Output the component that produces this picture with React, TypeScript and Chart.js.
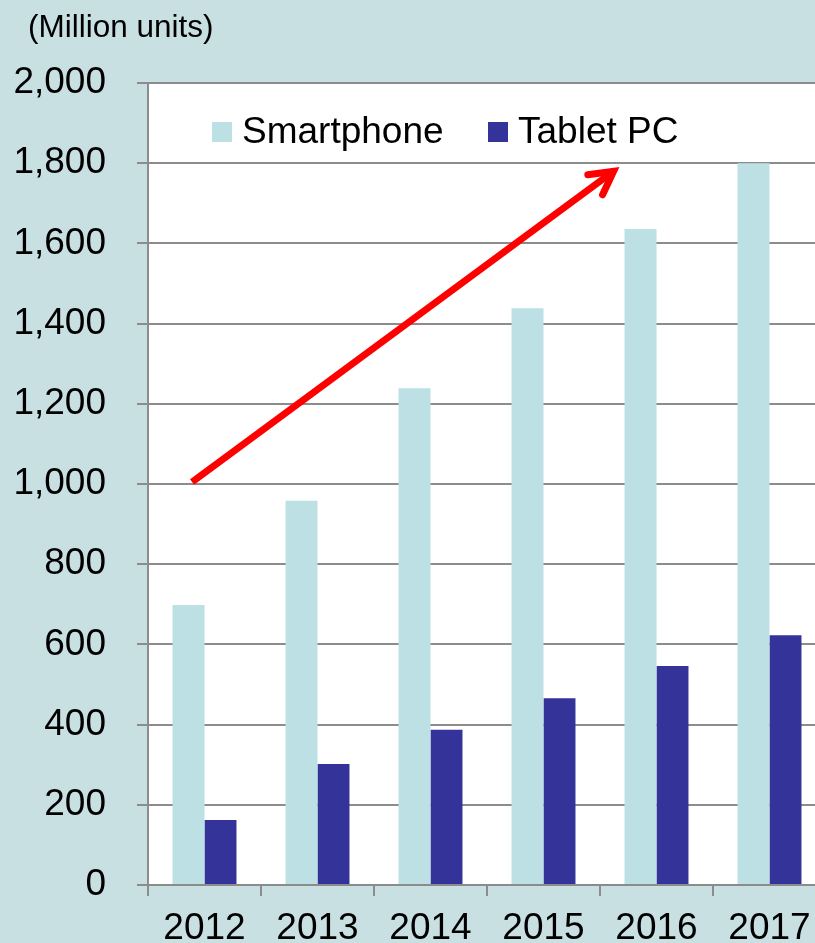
import React, { useEffect, useRef } from "react";
import { Chart, registerables } from "chart.js";

Chart.register(...registerables);

const categories = ["2012", "2013", "2014", "2015", "2016", "2017"];
const smartphone = [698, 958, 1239, 1438, 1636, 1800];
const tablet = [162, 302, 387, 466, 546, 623];
const seriesNames = ["Smartphone", "Tablet PC"];
const yTicks = [0, 200, 400, 600, 800, 1000, 1200, 1400, 1600, 1800, 2000];
const unitLabel = "(Million units)";
// arrow annotation in data coordinates: [category index, value]
const arrowFrom = [-0.11, 1005];
const arrowTo = [3.62, 1780];

const BG = "#c9e0e3";
const SMART = "#bce0e4";
const TABLET = "#333399";
const GRID = "#8c8c8c";
const FONT = "'Liberation Sans', Arial, sans-serif";

export default function App() {
  const ref = useRef<HTMLCanvasElement | null>(null);

  useEffect(() => {
    document.body.style.margin = "0";
    const canvas = ref.current!;
    const plugin = {
      id: "custom",
      beforeDraw(chart: any) {
        const { ctx, chartArea } = chart;
        ctx.save();
        ctx.fillStyle = BG;
        ctx.fillRect(0, 0, chart.width, chart.height);
        ctx.fillStyle = "#ffffff";
        ctx.fillRect(chartArea.left, chartArea.top, chartArea.right - chartArea.left, chartArea.bottom - chartArea.top);
        ctx.restore();
      },
      afterDraw(chart: any) {
        const { ctx, chartArea, scales } = chart;
        ctx.save();
        // unit label
        ctx.fillStyle = "#000";
        ctx.font = `31.5px ${FONT}`;
        ctx.textAlign = "left";
        ctx.textBaseline = "alphabetic";
        ctx.fillText(unitLabel, chartArea.left - 120, chartArea.top - 46);
        // legend
        const colors = [SMART, TABLET];
        const lx = [chartArea.left + 64, chartArea.left + 340];
        ctx.font = `37px ${FONT}`;
        seriesNames.forEach((name, i) => {
          ctx.fillStyle = colors[i];
          ctx.fillRect(lx[i], chartArea.top + 39, 20, 20);
          ctx.fillStyle = "#000";
          ctx.fillText(name, lx[i] + 30, chartArea.top + 60);
        });
        // arrow
        const x1 = scales.x.getPixelForValue(arrowFrom[0]);
        const y1 = scales.y.getPixelForValue(arrowFrom[1]);
        const x2 = scales.x.getPixelForValue(arrowTo[0]);
        const y2 = scales.y.getPixelForValue(arrowTo[1]);
        const ang = Math.atan2(y2 - y1, x2 - x1);
        ctx.strokeStyle = "#ff0000";
        ctx.lineWidth = 7;
        ctx.lineCap = "butt";
        ctx.beginPath();
        ctx.moveTo(x1, y1);
        ctx.lineTo(x2 - 3 * Math.cos(ang), y2 - 3 * Math.sin(ang));
        ctx.stroke();
        ctx.lineCap = "round";
        ctx.lineJoin = "miter";
        const hl = 26;
        const spread = 0.5;
        ctx.beginPath();
        ctx.moveTo(x2 - hl * Math.cos(ang - spread), y2 - hl * Math.sin(ang - spread));
        ctx.lineTo(x2, y2);
        ctx.lineTo(x2 - hl * Math.cos(ang + spread), y2 - hl * Math.sin(ang + spread));
        ctx.stroke();
        ctx.restore();
      },
    };

    const chart = new Chart(canvas, {
      type: "bar",
      data: {
        labels: categories,
        datasets: [
          { label: seriesNames[0], data: smartphone, backgroundColor: SMART, categoryPercentage: 0.566, barPercentage: 1 },
          { label: seriesNames[1], data: tablet, backgroundColor: TABLET, categoryPercentage: 0.566, barPercentage: 1 },
        ],
      },
      options: {
        responsive: false,
        animation: false,
        events: [],
        layout: { padding: { left: 0, right: 14, top: 83, bottom: 0 } },
        plugins: { legend: { display: false }, title: { display: false }, tooltip: { enabled: false } },
        scales: {
          x: {
            grid: { display: true, drawOnChartArea: false, drawTicks: true, tickLength: 11, color: GRID, lineWidth: 2, offset: true },
            border: { display: true, color: GRID, width: 2 },
            ticks: { color: "#000", font: { family: FONT, size: 37 }, padding: 11, maxRotation: 0, autoSkip: false },
            afterFit: (s: any) => { s.height = 58; },
          },
          y: {
            min: 0,
            max: 2000,
            afterBuildTicks: (s: any) => { s.ticks = yTicks.map((v) => ({ value: v })); },
            grid: { color: GRID, lineWidth: 2, tickLength: 11, drawTicks: true },
            border: { display: true, color: GRID, width: 2 },
            ticks: {
              color: "#000",
              font: { family: FONT, size: 37 },
              padding: 31,
              callback: (v: any) => Number(v).toLocaleString("en-US"),
            },
            afterFit: (s: any) => { s.width = 148; },
          },
        },
      },
      plugins: [plugin],
    });
    return () => chart.destroy();
  }, []);

  return (
    <div style={{ position: "absolute", left: 0, top: 0, width: 815, height: 943, overflow: "hidden", background: BG }}>
      <canvas ref={ref} width={840} height={943} style={{ display: "block", width: 840, height: 943 }} />
    </div>
  );
}
